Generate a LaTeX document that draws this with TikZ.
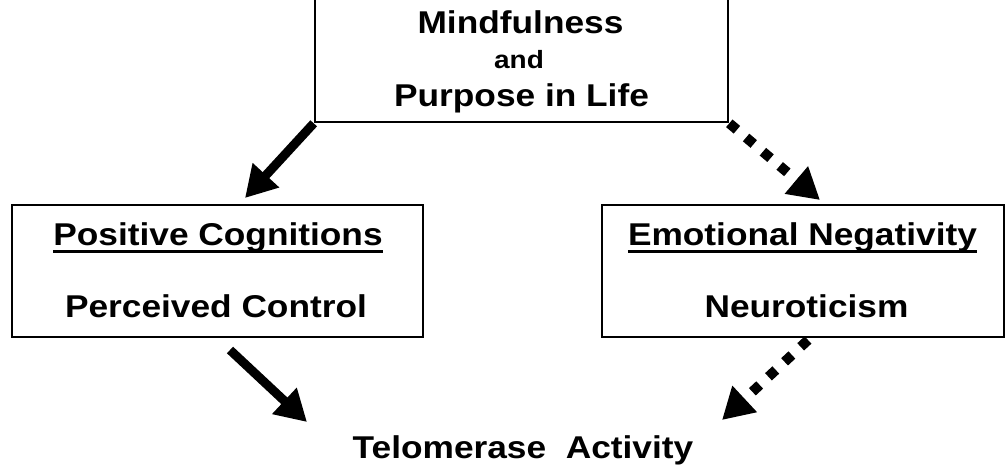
\documentclass[tikz,border=0pt]{standalone}
\usepackage{fontspec}
\newfontfamily\labfont{Liberation Sans}[FakeStretch=1.12]
\usetikzlibrary{arrows.meta}
\begin{document}
\begin{tikzpicture}[x=1pt,y=-1pt,
  box/.style={draw=black,line width=2.6pt,rectangle,inner sep=0pt},
  big/.style={font=\labfont\bfseries\fontsize{31.5}{37}\selectfont,inner sep=0pt,anchor=base},
  small/.style={font=\labfont\bfseries\fontsize{25}{29}\selectfont,inner sep=0pt,anchor=base},
  solidarrow/.style={line width=9pt,-{Triangle[length=31pt,width=34pt]}},
  dotarrow/.style={line width=10pt,dash pattern=on 10pt off 12pt,-{Triangle[length=31pt,width=34pt]}},
  uline/.style={line width=3pt}]
\useasboundingbox (0,0) rectangle (1006,467);
\fill[white] (0,0) rectangle (1006,467);
% boxes
\node[box,minimum width=413pt,minimum height=132pt] (top) at (521.5,56) {};
\node[box,minimum width=411pt,minimum height=132pt] (pc) at (217.5,271) {};
\node[box,minimum width=402pt,minimum height=132pt] (en) at (803,271) {};
% texts
\node[big] (mind) at (520.5,33) {Mindfulness};
\node[small] (and) at (519,68) {and};
\node[big] (purp) at (521.5,106) {Purpose in Life};
\node[big] (poscog) at (218,245) {Positive Cognitions};
\node[big] (perc) at (216,317) {Perceived Control};
\node[big] (emneg) at (802.5,245) {Emotional Negativity};
\node[big] (neuro) at (806.5,317) {Neuroticism};
\node[big] (telo) at (523,458) {Telomerase\ \ Activity};
% underlines
\draw[uline] ([yshift=-6pt]poscog.base west) -- ([yshift=-6pt]poscog.base east);
\draw[uline] ([yshift=-6pt]emneg.base west) -- ([yshift=-6pt]emneg.base east);
% arrow ends
\coordinate (t1) at (245,198);
\coordinate (t2) at (820,200);
\coordinate (s3) at (230,350);
\coordinate (t3) at (307,422);
\coordinate (s4) at (808,340);
\coordinate (t4) at (722,420);
% arrows
\draw[solidarrow] (top.south west) -- (t1);
\draw[dotarrow] (top.south east) -- (t2);
\draw[solidarrow] (s3) -- (t3);
\draw[dotarrow] (s4) -- (t4);
\end{tikzpicture}
\end{document}
